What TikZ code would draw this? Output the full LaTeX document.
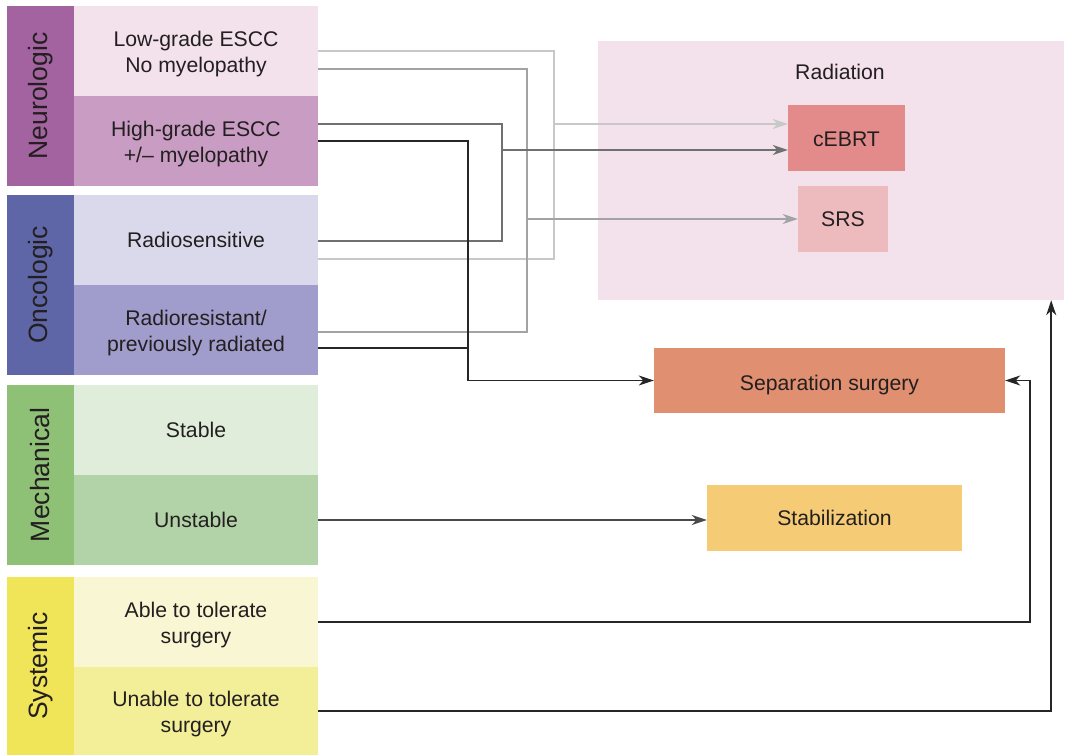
\documentclass[tikz,border=0pt]{standalone}
\usepackage{fontspec}
\setmainfont{Liberation Sans}
\usetikzlibrary{arrows.meta,calc}
\definecolor{txt}{HTML}{231F20}
\definecolor{neuBar}{HTML}{A263A0}
\definecolor{neuA}{HTML}{F3E1EC}
\definecolor{neuB}{HTML}{C99CC3}
\definecolor{oncBar}{HTML}{5F66A8}
\definecolor{oncA}{HTML}{DAD8EB}
\definecolor{oncB}{HTML}{A09CCB}
\definecolor{mecBar}{HTML}{8EC175}
\definecolor{mecA}{HTML}{E1EDDB}
\definecolor{mecB}{HTML}{B2D3A7}
\definecolor{sysBar}{HTML}{F0E459}
\definecolor{sysA}{HTML}{F8F6D3}
\definecolor{sysB}{HTML}{F3EE98}
\definecolor{radBg}{HTML}{F3E1EC}
\definecolor{cebC}{HTML}{E38B8A}
\definecolor{srsC}{HTML}{EDBBBE}
\definecolor{sepC}{HTML}{E08F71}
\definecolor{stabC}{HTML}{F6CB75}
\definecolor{lnLight}{HTML}{C8C8C8}
\definecolor{lnMid}{HTML}{A3A3A3}
\definecolor{lnDark}{HTML}{707070}
\definecolor{lnBlack}{HTML}{262626}
\definecolor{lnUnst}{HTML}{4A4A4A}
\newcommand\twol[2]{\raisebox{-3.5pt}[\height][\depth]{\begin{tabular}{@{}c@{}}#1\\#2\end{tabular}}}
\newcommand\lowr[2]{\raisebox{-#1}[\height][\depth]{#2}}
\tikzset{
  box/.style={inner sep=0pt, align=center, text=txt,
    font=\fontsize{21.2}{26}\selectfont},
  catbar/.style={box, minimum width=67pt, minimum height=180pt,
    font=\fontsize{26.5}{28}\selectfont},
  subbox/.style={box, minimum width=244pt, minimum height=90pt},
  tip/.style={-{Stealth[length=15pt,width=10pt,inset=4.5pt]}},
  wLight/.style={draw=lnLight, line width=1.5pt},
  wMid/.style={draw=lnMid, line width=1.5pt},
  wDark/.style={draw=lnDark, line width=1.5pt},
  wBlack/.style={draw=lnBlack, line width=1.5pt},
}
\begin{document}
\begin{tikzpicture}[x=1pt,y=-1pt]
\useasboundingbox[fill=white] (0,0) rectangle (1065,755);
% left column
\node[catbar, fill=neuBar] (neu) at (40.5,96) {\rotatebox{90}{Neurologic}};
\node[subbox, fill=neuA] (n1) at (196,51) {\twol{Low-grade ESCC}{No myelopathy}};
\node[subbox, fill=neuB] (n2) at (196,141) {\twol{High-grade ESCC}{+/\textendash{} myelopathy}};
\node[catbar, fill=oncBar] (onc) at (40.5,285) {\rotatebox{90}{Oncologic}};
\node[subbox, fill=oncA] (o1) at (196,240) {Radiosensitive};
\node[subbox, fill=oncB] (o2) at (196,330) {\twol{Radioresistant/}{previously radiated}};
\node[catbar, fill=mecBar] (mec) at (40.5,475) {\rotatebox{90}{Mechanical}};
\node[subbox, fill=mecA] (m1) at (196,430) {Stable};
\node[subbox, fill=mecB] (m2) at (196,520) {Unstable};
\node[catbar, fill=sysBar, minimum height=178pt] (sys) at (40.5,666) {\rotatebox{90}{Systemic}};
\node[subbox, fill=sysA] (s1) at (196,622) {\twol{Able to tolerate}{surgery}};
\node[subbox, fill=sysB, minimum height=88pt] (s2) at (196,711) {\twol{Unable to tolerate}{surgery}};
% right column
\node[box, fill=radBg, minimum width=466pt, minimum height=259pt] (rad) at (831,170.5) {};
\node[box] (radt) at (840,72) {Radiation};
\node[box, fill=cebC, minimum width=117pt, minimum height=66pt] (ceb) at (846.5,138) {\lowr{1pt}{cEBRT}};
\node[box, fill=srsC, minimum width=90pt, minimum height=66pt] (srs) at (843,219) {SRS};
\node[box, fill=sepC, minimum width=351pt, minimum height=65pt] (sep) at (829.5,380.5) {\lowr{5pt}{Separation surgery}};
\node[box, fill=stabC, minimum width=255pt, minimum height=66pt] (stab) at (834.5,518) {Stabilization};
% junction coordinates
\coordinate (jL) at (554,124);
\coordinate (jM) at (527,219);
\coordinate (jD) at (502,150);
\coordinate (jB) at (sep.west -| 468,0);
% light: low-grade + radiosensitive -> cEBRT
\draw[wLight] (n1.east) -- (554,51) -- (554,259) -- (o1.east |- 0,259);
\draw[wLight, tip] (jL) -- (ceb.west |- jL);
% mid: low-grade + radioresistant -> SRS
\draw[wMid] (n1.east |- 0,69) -- (527,69) -- (527,332) -- (o2.east |- 0,332);
\draw[wMid, tip] (jM) -- (srs.west |- jM);
% dark: high-grade + radiosensitive -> cEBRT
\draw[wDark] (n2.east |- 0,124) -- (502,124) -- (502,241) -- (o1.east |- 0,241);
\draw[wDark, tip] (jD) -- (ceb.west |- jD);
% black: high-grade + radioresistant -> separation surgery
\draw[wBlack] (o2.east |- 0,348) -- (468,348);
\draw[wBlack, tip] (n2.east) -| (jB) -- (sep.west);
% unstable -> stabilization
\draw[wBlack, draw=lnUnst, tip] (m2.east) -- (stab.west |- m2.east);
% able -> separation surgery
\draw[wBlack, tip] (s1.east) -| ([xshift=25pt]sep.east) -- (sep.east);
% unable -> radiation
\draw[wBlack, tip] (s2.east) -| ([xshift=-13pt]rad.south east);
\end{tikzpicture}
\end{document}
